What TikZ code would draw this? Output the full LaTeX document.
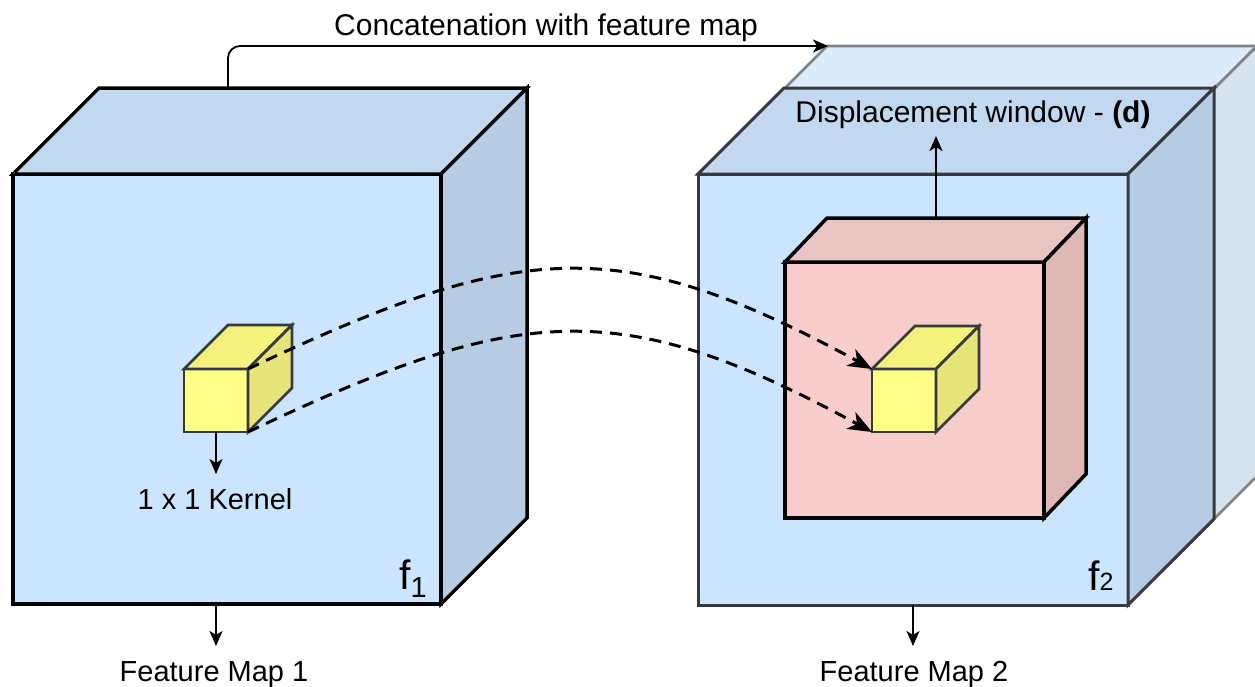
\documentclass[tikz,border=0pt]{standalone}
\usepackage{fontspec}
\setmainfont{Liberation Sans}
\usetikzlibrary{arrows.meta}
\definecolor{fmfront}{HTML}{CCE5FF}
\definecolor{fmtop}{HTML}{C1D8EF}
\definecolor{fmside}{HTML}{B5CCE3}
\definecolor{ghfront}{HTML}{E2EDF9}
\definecolor{ghtop}{HTML}{DDEAF8}
\definecolor{ghside}{HTML}{D6E2EE}
\definecolor{pkfront}{HTML}{F8CECC}
\definecolor{pktop}{HTML}{EAC4C3}
\definecolor{pkside}{HTML}{DFB7B6}
\definecolor{ylfront}{HTML}{FFFF88}
\definecolor{yltop}{HTML}{F2F27D}
\definecolor{ylside}{HTML}{E5E57A}
\definecolor{darkstroke}{HTML}{36393D}
\definecolor{ghstroke}{HTML}{7F8388}
% #1 x1, #2 y1 (top), #3 x2, #4 y2 (bottom), #5 depth dx, #6 depth dy, #7 colour prefix, #8 stroke style
\newcommand\drawcube[8]{%
  \path[#8,fill=#7front] (#1,#2) rectangle (#3,#4);
  \path[#8,fill=#7top] (#1,#2) -- ({#1+#5},{#2-#6}) -- ({#3+#5},{#2-#6}) -- (#3,#2) -- cycle;
  \path[#8,fill=#7side] (#3,#2) -- ({#3+#5},{#2-#6}) -- ({#3+#5},{#4-#6}) -- (#3,#4) -- cycle;
}
\tikzset{
  lbl/.style={font=\fontsize{29}{34}\selectfont, inner sep=0pt, text=black},
  widelbl/.style={font=\fontsize{30}{35}\selectfont, inner sep=0pt, text=black},
  blackedge/.style={draw=black, line width=3.5pt},
  darkedge/.style={draw=darkstroke, line width=3pt},
  yledge/.style={draw=darkstroke, line width=2.6pt},
  ghedge/.style={draw=ghstroke, line width=2.6pt},
  thinarrow/.style={draw=black, line width=1.8pt, -{Stealth[length=15pt,width=13pt,inset=4pt]}},
  dasharrow/.style={draw=black, line width=3pt, dash pattern=on 12pt off 8pt,
    -{Stealth[length=24pt,width=19pt,inset=7pt]}},
}
\begin{document}
\begin{tikzpicture}[x=1pt,y=-1pt]
\useasboundingbox (0,0) rectangle (1255,686);
\clip (0,0) rectangle (1255,686);

% concatenated (ghost) volume behind feature map 2
\drawcube{741}{132}{1171}{562}{86}{86}{gh}{ghedge}
% feature map 1
\drawcube{13}{174}{441}{604}{86}{86}{fm}{blackedge}
% feature map 2
\drawcube{698}{174}{1128}{605}{86}{86}{fm}{darkedge}
% displacement window
\drawcube{785}{262}{1044}{518}{42}{44}{pk}{blackedge}
% kernels
\drawcube{184}{369}{248}{432}{44}{44}{yl}{yledge}
\drawcube{872}{369}{936}{432}{43}{43}{yl}{yledge}

% named coordinates on the shapes
\coordinate (fmAtop) at (228,88);
\coordinate (ghcorner) at (828,46);
\coordinate (fmAbottom) at (216,604);
\coordinate (fmAout) at (216,646);
\coordinate (fmBbottom) at (913,605);
\coordinate (fmBout) at (913,646);
\coordinate (kAbottom) at (216,432);
\coordinate (kAout) at (216,474);
\coordinate (kAne) at (248,369);
\coordinate (kAse) at (248,432);
\coordinate (kBnw) at (872,369);
\coordinate (kBsw) at (872,432);
\coordinate (pktop) at (936,218);
\coordinate (pkout) at (936,136);

% connectors
\draw[thinarrow, rounded corners=12pt] (fmAtop) |- (ghcorner);
\draw[thinarrow] (pktop) -- (pkout);
\draw[thinarrow] (kAbottom) -- (kAout);
\draw[thinarrow] (fmAbottom) -- (fmAout);
\draw[thinarrow] (fmBbottom) -- (fmBout);
\draw[dasharrow] (kAne) .. controls (520,240) and (620,232) .. (kBnw);
\draw[dasharrow] (kAse) .. controls (520,303) and (620,295) .. (kBsw);

% labels
\node[widelbl, anchor=base] (concatlbl) at (546,35) {Concatenation with feature map};
\node[widelbl, anchor=base] (displbl) at (973,122) {Displacement window - \textbf{(d)}};
\node[lbl, anchor=base] (kernlbl) at (215,509) {1 x 1 Kernel};
\node[lbl, anchor=base] (fmAlbl) at (214,681) {Feature Map 1};
\node[lbl, anchor=base] (fmBlbl) at (914,681) {Feature Map 2};
\node[inner sep=0pt, anchor=base west] (fAlbl) at (399,589)
  {\fontsize{41}{44}\selectfont f\raisebox{-8pt}{\fontsize{29}{32}\selectfont 1}};
\node[inner sep=0pt, anchor=base west] (fBlbl) at (1088,590)
  {\fontsize{41}{44}\selectfont f{\fontsize{25}{28}\selectfont 2}};
\end{tikzpicture}
\end{document}
